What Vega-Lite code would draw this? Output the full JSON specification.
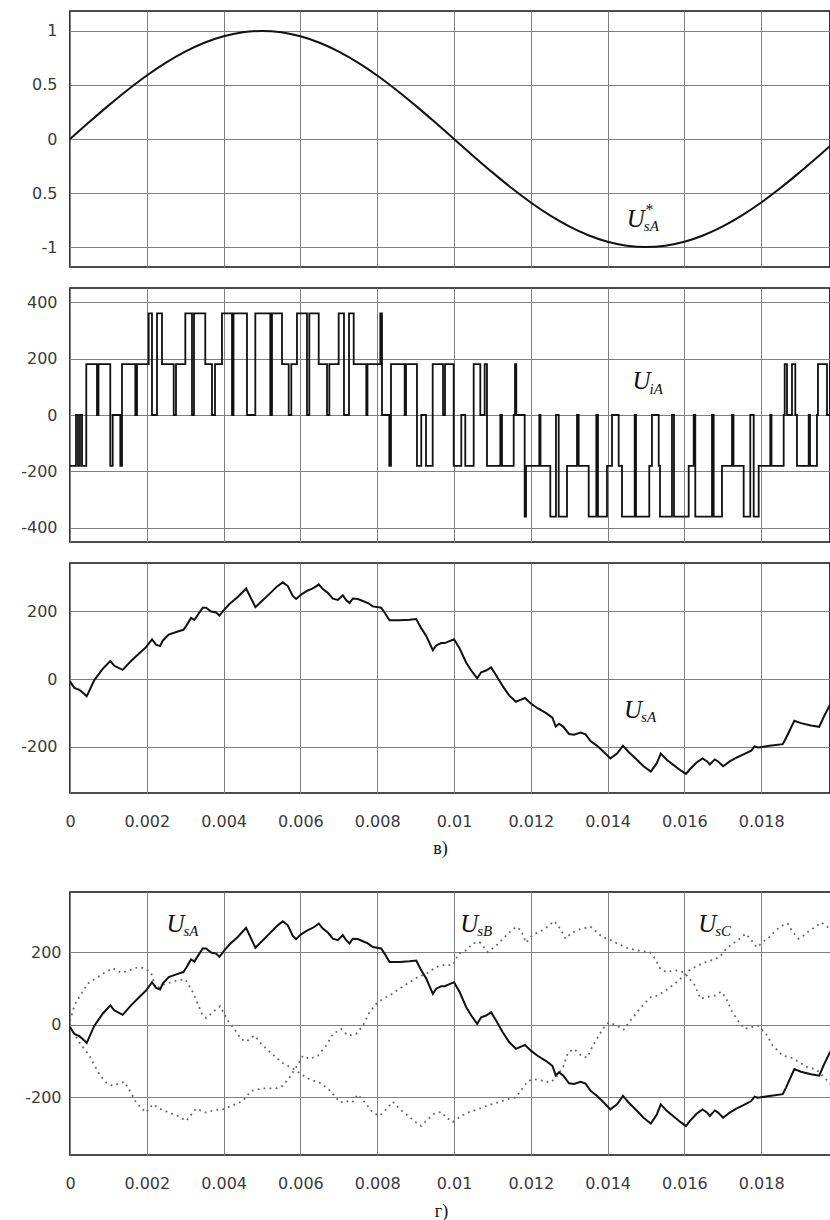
{
  "$schema": "https://vega.github.io/schema/vega-lite/v6.json",
  "padding": {"left": 19, "top": 10, "right": 0, "bottom": 0},
  "config": {
    "view": {"stroke": "#111", "strokeWidth": 1.7},
    "axis": {"grid": true, "gridColor": "#808080", "gridWidth": 1, "ticks": false, "tickSize": 0, "domain": false,
      "labelFont": "DejaVu Sans", "labelFontSize": 16, "labelColor": "#3a3a3a", "labelOverlap": false, "labelFlush": false,
      "titleFont": "Liberation Serif", "titleFontSize": 18, "titleFontWeight": "normal", "titleColor": "#111"},
    "axisY": {"labelPadding": 13},
    "axisX": {"labelPadding": 20, "titlePadding": 10},
    "line": {"color": "#111", "strokeWidth": 2},
    "text": {"font": "Liberation Serif", "fontStyle": "italic", "color": "#111", "align": "left", "baseline": "alphabetic"}
  },
  "datasets": {
    "sine": [
      {"t":0,"v":0},{"t":0.0005,"v":0.1564},{"t":0.001,"v":0.309},{"t":0.0015,"v":0.454},{"t":0.002,"v":0.5878},{"t":0.0025,"v":0.7071},{"t":0.003,"v":0.809},{"t":0.0035,"v":0.891},{"t":0.004,"v":0.9511},{"t":0.0045,"v":0.9877},
      {"t":0.005,"v":1},{"t":0.0055,"v":0.9877},{"t":0.006,"v":0.9511},{"t":0.0065,"v":0.891},{"t":0.007,"v":0.809},{"t":0.0075,"v":0.7071},{"t":0.008,"v":0.5878},{"t":0.0085,"v":0.454},{"t":0.009,"v":0.309},{"t":0.0095,"v":0.1564},
      {"t":0.01,"v":0},{"t":0.0105,"v":-0.1564},{"t":0.011,"v":-0.309},{"t":0.0115,"v":-0.454},{"t":0.012,"v":-0.5878},{"t":0.0125,"v":-0.7071},{"t":0.013,"v":-0.809},{"t":0.0135,"v":-0.891},{"t":0.014,"v":-0.9511},{"t":0.0145,"v":-0.9877},
      {"t":0.015,"v":-1},{"t":0.0155,"v":-0.9877},{"t":0.016,"v":-0.9511},{"t":0.0165,"v":-0.891},{"t":0.017,"v":-0.809},{"t":0.0175,"v":-0.7071},{"t":0.018,"v":-0.5878},{"t":0.0185,"v":-0.454},{"t":0.019,"v":-0.309},{"t":0.0195,"v":-0.1564},{"t":0.02,"v":0}
    ],
    "pwm": [
      {"t":0,"v":-180},{"t":0.000156,"v":0},{"t":0.000208,"v":-180},{"t":0.00026,"v":0},{"t":0.000313,"v":-180},{"t":0.000424,"v":180},{"t":0.000703,"v":0},{"t":0.000742,"v":180},{"t":0.001049,"v":-180},{"t":0.001112,"v":0},
      {"t":0.00131,"v":-180},{"t":0.001354,"v":180},{"t":0.001701,"v":0},{"t":0.001745,"v":180},{"t":0.002049,"v":360},{"t":0.002135,"v":0},{"t":0.002266,"v":360},{"t":0.002396,"v":180},{"t":0.002701,"v":0},{"t":0.00276,"v":180},
      {"t":0.003003,"v":360},{"t":0.003177,"v":0},{"t":0.003229,"v":360},{"t":0.003523,"v":180},{"t":0.003698,"v":0},{"t":0.003776,"v":180},{"t":0.003958,"v":360},{"t":0.004219,"v":0},{"t":0.004258,"v":360},{"t":0.004609,"v":0},
      {"t":0.004826,"v":360},{"t":0.005216,"v":0},{"t":0.00526,"v":360},{"t":0.005521,"v":180},{"t":0.005695,"v":0},{"t":0.005763,"v":180},{"t":0.005911,"v":360},{"t":0.006172,"v":0},{"t":0.006232,"v":360},{"t":0.006477,"v":180},
      {"t":0.006693,"v":0},{"t":0.006753,"v":180},{"t":0.006997,"v":360},{"t":0.007135,"v":0},{"t":0.007266,"v":360},{"t":0.007388,"v":180},{"t":0.007716,"v":0},{"t":0.007747,"v":180},{"t":0.008081,"v":360},{"t":0.008125,"v":0},
      {"t":0.008315,"v":-180},{"t":0.008359,"v":180},{"t":0.008716,"v":0},{"t":0.00875,"v":180},{"t":0.009036,"v":-180},{"t":0.009148,"v":0},{"t":0.009271,"v":-180},{"t":0.009445,"v":180},{"t":0.009714,"v":0},{"t":0.009766,"v":180},
      {"t":0.009992,"v":-180},{"t":0.01019,"v":0},{"t":0.010294,"v":-180},{"t":0.010513,"v":180},{"t":0.010685,"v":0},{"t":0.010799,"v":180},{"t":0.010859,"v":-180},{"t":0.011206,"v":0},{"t":0.01125,"v":-180},{"t":0.011555,"v":0},
      {"t":0.011589,"v":180},{"t":0.011622,"v":0},{"t":0.011841,"v":-360},{"t":0.011875,"v":-180},{"t":0.012221,"v":0},{"t":0.012253,"v":-180},{"t":0.012508,"v":-360},{"t":0.012656,"v":0},{"t":0.012727,"v":-360},{"t":0.012943,"v":-180},
      {"t":0.013203,"v":0},{"t":0.013247,"v":-180},{"t":0.013508,"v":-360},{"t":0.013706,"v":0},{"t":0.01375,"v":-360},{"t":0.013984,"v":-180},{"t":0.014115,"v":0},{"t":0.014289,"v":-180},{"t":0.014375,"v":-360},{"t":0.014706,"v":0},
      {"t":0.01474,"v":-360},{"t":0.015086,"v":-180},{"t":0.015156,"v":0},{"t":0.015331,"v":-180},{"t":0.015365,"v":-360},{"t":0.015677,"v":0},{"t":0.015729,"v":-360},{"t":0.016112,"v":-180},{"t":0.016242,"v":0},{"t":0.016284,"v":-360},
      {"t":0.016719,"v":0},{"t":0.016763,"v":-360},{"t":0.016979,"v":-180},{"t":0.01724,"v":0},{"t":0.017279,"v":-180},{"t":0.017544,"v":-360},{"t":0.017716,"v":0},{"t":0.017805,"v":-360},{"t":0.017935,"v":-180},{"t":0.018237,"v":0},
      {"t":0.018268,"v":-180},{"t":0.018586,"v":0},{"t":0.018612,"v":180},{"t":0.018672,"v":0},{"t":0.018802,"v":180},{"t":0.018888,"v":0},{"t":0.018932,"v":-180},{"t":0.019237,"v":0},{"t":0.019271,"v":-180},{"t":0.019453,"v":0},
      {"t":0.019479,"v":180},{"t":0.019714,"v":0},{"t":0.019792,"v":180},{"t":0.02,"v":180}
    ],
    "usa": [
      {"t":0,"v":-7},{"t":0.000113,"v":-26},{"t":0.000243,"v":-32},{"t":0.00033,"v":-40},{"t":0.000434,"v":-51},{"t":0.000634,"v":-3},{"t":0.000851,"v":30},{"t":0.001051,"v":53},{"t":0.001155,"v":39},{"t":0.001372,"v":27},
      {"t":0.001589,"v":53},{"t":0.001807,"v":76},{"t":0.00198,"v":94},{"t":0.002137,"v":117},{"t":0.002241,"v":101},{"t":0.002345,"v":97},{"t":0.002415,"v":113},{"t":0.002571,"v":131},{"t":0.002806,"v":140},{"t":0.002953,"v":145},
      {"t":0.003023,"v":156},{"t":0.003153,"v":180},{"t":0.00324,"v":174},{"t":0.003327,"v":189},{"t":0.003457,"v":210},{"t":0.003544,"v":210},{"t":0.003674,"v":199},{"t":0.003804,"v":196},{"t":0.003891,"v":187},{"t":0.004022,"v":205},
      {"t":0.004152,"v":221},{"t":0.004369,"v":242},{"t":0.004586,"v":267},{"t":0.004829,"v":212},{"t":0.004977,"v":228},{"t":0.005194,"v":251},{"t":0.005394,"v":273},{"t":0.005542,"v":285},{"t":0.005672,"v":274},{"t":0.005802,"v":245},
      {"t":0.005889,"v":236},{"t":0.006019,"v":249},{"t":0.006193,"v":261},{"t":0.00628,"v":265},{"t":0.006367,"v":270},{"t":0.00648,"v":279},{"t":0.006584,"v":265},{"t":0.006714,"v":254},{"t":0.006845,"v":237},{"t":0.006975,"v":233},
      {"t":0.007105,"v":247},{"t":0.007192,"v":233},{"t":0.007279,"v":224},{"t":0.007366,"v":237},{"t":0.007496,"v":236},{"t":0.007626,"v":230},{"t":0.007757,"v":224},{"t":0.007887,"v":214},{"t":0.008104,"v":210},{"t":0.008191,"v":196},
      {"t":0.008321,"v":173},{"t":0.008582,"v":173},{"t":0.008842,"v":175},{"t":0.009016,"v":177},{"t":0.009146,"v":150},{"t":0.009277,"v":127},{"t":0.00945,"v":85},{"t":0.009537,"v":99},{"t":0.009667,"v":106},{"t":0.009758,"v":106},
      {"t":0.01,"v":117},{"t":0.010147,"v":90},{"t":0.010319,"v":48},{"t":0.010449,"v":25},{"t":0.010604,"v":2},{"t":0.010708,"v":20},{"t":0.010837,"v":25},{"t":0.010967,"v":34},{"t":0.011096,"v":11},{"t":0.011269,"v":-21},
      {"t":0.011441,"v":-49},{"t":0.011614,"v":-67},{"t":0.0117,"v":-63},{"t":0.011847,"v":-56},{"t":0.012002,"v":-72},{"t":0.012175,"v":-86},{"t":0.012391,"v":-100},{"t":0.012563,"v":-114},{"t":0.012649,"v":-140},{"t":0.012736,"v":-132},
      {"t":0.012848,"v":-141},{"t":0.012995,"v":-162},{"t":0.013124,"v":-164},{"t":0.013297,"v":-158},{"t":0.013426,"v":-163},{"t":0.013556,"v":-183},{"t":0.013728,"v":-197},{"t":0.013901,"v":-215},{"t":0.014074,"v":-234},{"t":0.014246,"v":-220},
      {"t":0.014401,"v":-197},{"t":0.014548,"v":-215},{"t":0.014764,"v":-238},{"t":0.014936,"v":-257},{"t":0.015126,"v":-273},{"t":0.015282,"v":-248},{"t":0.015385,"v":-220},{"t":0.01554,"v":-238},{"t":0.015713,"v":-253},{"t":0.015886,"v":-268},
      {"t":0.016041,"v":-280},{"t":0.016145,"v":-266},{"t":0.016317,"v":-246},{"t":0.016473,"v":-234},{"t":0.016594,"v":-243},{"t":0.016663,"v":-252},{"t":0.016792,"v":-237},{"t":0.016878,"v":-243},{"t":0.017008,"v":-257},{"t":0.01718,"v":-243},
      {"t":0.017353,"v":-232},{"t":0.017525,"v":-223},{"t":0.017741,"v":-211},{"t":0.017827,"v":-199},{"t":0.017914,"v":-202},{"t":0.018216,"v":-197},{"t":0.018561,"v":-192},{"t":0.018647,"v":-174},{"t":0.018863,"v":-123},{"t":0.019036,"v":-130},
      {"t":0.019295,"v":-137},{"t":0.019511,"v":-141},{"t":0.01964,"v":-109},{"t":0.01977,"v":-81},{"t":0.019942,"v":-47}
    ],
    "usb": [
      {"t":0,"v":-5},{"t":0.000243,"v":-49},{"t":0.000504,"v":-86},{"t":0.000764,"v":-137},{"t":0.000938,"v":-160},{"t":0.001112,"v":-169},{"t":0.001242,"v":-164},{"t":0.001416,"v":-158},{"t":0.001589,"v":-188},{"t":0.00172,"v":-215},
      {"t":0.00198,"v":-243},{"t":0.002154,"v":-220},{"t":0.002371,"v":-234},{"t":0.002588,"v":-243},{"t":0.002806,"v":-252},{"t":0.003023,"v":-266},{"t":0.003283,"v":-232},{"t":0.003544,"v":-243},{"t":0.003761,"v":-236},{"t":0.003978,"v":-234},
      {"t":0.004239,"v":-223},{"t":0.004499,"v":-211},{"t":0.004716,"v":-183},{"t":0.005021,"v":-176},{"t":0.005368,"v":-176},{"t":0.005542,"v":-169},{"t":0.005715,"v":-146},{"t":0.005889,"v":-118},{"t":0.006063,"v":-86},{"t":0.006237,"v":-95},
      {"t":0.006454,"v":-86},{"t":0.006671,"v":-58},{"t":0.006845,"v":-26},{"t":0.007062,"v":-12},{"t":0.007235,"v":-30},{"t":0.007453,"v":-26},{"t":0.007626,"v":-3},{"t":0.0078,"v":34},{"t":0.007974,"v":57},{"t":0.008147,"v":71},
      {"t":0.008321,"v":80},{"t":0.008582,"v":99},{"t":0.008842,"v":117},{"t":0.009059,"v":131},{"t":0.009277,"v":140},{"t":0.009537,"v":159},{"t":0.009754,"v":165},{"t":0.009974,"v":164},{"t":0.010121,"v":196},{"t":0.010319,"v":205},
      {"t":0.010492,"v":224},{"t":0.010665,"v":228},{"t":0.01088,"v":200},{"t":0.011053,"v":214},{"t":0.011269,"v":236},{"t":0.011441,"v":254},{"t":0.011614,"v":270},{"t":0.011743,"v":261},{"t":0.011873,"v":226},{"t":0.012045,"v":247},
      {"t":0.012261,"v":258},{"t":0.012434,"v":270},{"t":0.012606,"v":286},{"t":0.012762,"v":265},{"t":0.012908,"v":237},{"t":0.013038,"v":251},{"t":0.01321,"v":261},{"t":0.013426,"v":267},{"t":0.013556,"v":270},{"t":0.013711,"v":256},
      {"t":0.013858,"v":242},{"t":0.01403,"v":236},{"t":0.014246,"v":224},{"t":0.014505,"v":212},{"t":0.014764,"v":205},{"t":0.015109,"v":199},{"t":0.015238,"v":182},{"t":0.015385,"v":152},{"t":0.01554,"v":145},{"t":0.015756,"v":150},
      {"t":0.015972,"v":145},{"t":0.016101,"v":131},{"t":0.016274,"v":108},{"t":0.016421,"v":71},{"t":0.016576,"v":76},{"t":0.016792,"v":80},{"t":0.016964,"v":91},{"t":0.017094,"v":71},{"t":0.017223,"v":39},{"t":0.017396,"v":11},
      {"t":0.017569,"v":-12},{"t":0.017741,"v":-7},{"t":0.017914,"v":-3},{"t":0.018129,"v":-26},{"t":0.018302,"v":-58},{"t":0.018561,"v":-86},{"t":0.018777,"v":-91},{"t":0.018992,"v":-104},{"t":0.019208,"v":-118},{"t":0.019424,"v":-123},
      {"t":0.019597,"v":-141},{"t":0.01977,"v":-160},{"t":0.019942,"v":-183}
    ],
    "usc": [
      {"t":0,"v":10},{"t":0.000113,"v":53},{"t":0.000243,"v":76},{"t":0.00046,"v":113},{"t":0.000678,"v":128},{"t":0.000895,"v":143},{"t":0.001112,"v":156},{"t":0.001329,"v":143},{"t":0.001546,"v":150},{"t":0.001763,"v":158},
      {"t":0.001937,"v":156},{"t":0.002111,"v":143},{"t":0.00224,"v":99},{"t":0.0025,"v":113},{"t":0.0028,"v":122},{"t":0.003,"v":125},{"t":0.003197,"v":90},{"t":0.003327,"v":57},{"t":0.003457,"v":25},{"t":0.003544,"v":18},
      {"t":0.003718,"v":34},{"t":0.003909,"v":51},{"t":0.004109,"v":11},{"t":0.004282,"v":-12},{"t":0.004456,"v":-40},{"t":0.004586,"v":-47},{"t":0.004803,"v":-30},{"t":0.005021,"v":-58},{"t":0.005264,"v":-81},{"t":0.005498,"v":-104},
      {"t":0.005802,"v":-121},{"t":0.006019,"v":-137},{"t":0.006237,"v":-151},{"t":0.006497,"v":-160},{"t":0.006714,"v":-176},{"t":0.006888,"v":-197},{"t":0.007036,"v":-215},{"t":0.007192,"v":-211},{"t":0.007348,"v":-215},{"t":0.007496,"v":-193},
      {"t":0.007696,"v":-217},{"t":0.007887,"v":-243},{"t":0.008061,"v":-252},{"t":0.008234,"v":-234},{"t":0.008408,"v":-213},{"t":0.008599,"v":-234},{"t":0.008799,"v":-252},{"t":0.008999,"v":-269},{"t":0.009146,"v":-280},{"t":0.00932,"v":-261},
      {"t":0.009494,"v":-245},{"t":0.009667,"v":-241},{"t":0.009801,"v":-257},{"t":0.009974,"v":-269},{"t":0.01019,"v":-252},{"t":0.010406,"v":-241},{"t":0.010621,"v":-234},{"t":0.01088,"v":-223},{"t":0.011139,"v":-215},{"t":0.011398,"v":-206},
      {"t":0.011614,"v":-201},{"t":0.011786,"v":-176},{"t":0.011933,"v":-155},{"t":0.012106,"v":-151},{"t":0.012304,"v":-155},{"t":0.01252,"v":-160},{"t":0.012693,"v":-141},{"t":0.012848,"v":-115},{"t":0.012969,"v":-77},{"t":0.013124,"v":-67},
      {"t":0.013314,"v":-86},{"t":0.013469,"v":-91},{"t":0.013616,"v":-58},{"t":0.013746,"v":-35},{"t":0.013875,"v":-12},{"t":0.01403,"v":6},{"t":0.014246,"v":-3},{"t":0.014419,"v":-14},{"t":0.014591,"v":11},{"t":0.014764,"v":34},
      {"t":0.014954,"v":57},{"t":0.015126,"v":76},{"t":0.015299,"v":80},{"t":0.015454,"v":90},{"t":0.015627,"v":103},{"t":0.015817,"v":119},{"t":0.015989,"v":136},{"t":0.016127,"v":150},{"t":0.016274,"v":159},{"t":0.016447,"v":168},
      {"t":0.016619,"v":175},{"t":0.016792,"v":180},{"t":0.016938,"v":189},{"t":0.017094,"v":210},{"t":0.017266,"v":224},{"t":0.017439,"v":237},{"t":0.017595,"v":251},{"t":0.017741,"v":233},{"t":0.017888,"v":213},{"t":0.018043,"v":228},
      {"t":0.018216,"v":242},{"t":0.018388,"v":261},{"t":0.018561,"v":274},{"t":0.01869,"v":279},{"t":0.01882,"v":256},{"t":0.018975,"v":237},{"t":0.019122,"v":247},{"t":0.019269,"v":261},{"t":0.019424,"v":270},{"t":0.019553,"v":282},
      {"t":0.0197,"v":273},{"t":0.019838,"v":256},{"t":0.019942,"v":247}
    ],
    "lbl1": [{"t":0.0145,"v":-0.812,"main":"U","sub":"sA","sup":"*"}],
    "lbl2": [{"t":0.01465,"v":91,"main":"U","sub":"iA"}],
    "lbl3": [{"t":0.01443,"v":-115,"main":"U","sub":"sA"}],
    "lbl4": [
      {"t":0.00251,"v":256,"main":"U","sub":"sA"},
      {"t":0.01016,"v":256,"main":"U","sub":"sB"},
      {"t":0.01636,"v":256,"main":"U","sub":"sC"}
    ]
  },
  "concat": [
    {
      "spacing": 19,
      "vconcat": [
        {
          "width": 760, "height": 256,
          "layer": [
            {"data": {"name": "sine"}, "mark": {"type": "line", "interpolate": "monotone", "clip": true},
             "encoding": {
               "x": {"field": "t", "type": "quantitative", "scale": {"domain": [0, 0.019792], "nice": false, "zero": false},
                     "axis": {"values": [0,0.002,0.004,0.006,0.008,0.01,0.012,0.014,0.016,0.018], "labels": false, "title": null}},
               "y": {"field": "v", "type": "quantitative", "scale": {"domain": [-1.185, 1.185], "nice": false, "zero": false},
                     "axis": {"values": [-1,-0.5,0,0.5,1], "title": null, "labelExpr": "datum.value == -0.5 ? '0.5' : (datum.value < 0 ? '-' : '') + format(abs(datum.value), '~g')"}}
             }},
            {"data": {"name": "lbl1"}, "mark": {"type": "text", "fontSize": 25},
             "encoding": {"x": {"field": "t", "type": "quantitative"}, "y": {"field": "v", "type": "quantitative"}, "text": {"field": "main"}}},
            {"data": {"name": "lbl1"}, "mark": {"type": "text", "fontSize": 15, "dx": 17, "dy": 4},
             "encoding": {"x": {"field": "t", "type": "quantitative"}, "y": {"field": "v", "type": "quantitative"}, "text": {"field": "sub"}}},
            {"data": {"name": "lbl1"}, "mark": {"type": "text", "fontSize": 16, "dx": 18, "dy": -12},
             "encoding": {"x": {"field": "t", "type": "quantitative"}, "y": {"field": "v", "type": "quantitative"}, "text": {"field": "sup"}}}
          ]
        },
        {
          "width": 760, "height": 254,
          "layer": [
            {"data": {"name": "pwm"}, "mark": {"type": "line", "interpolate": "step-after", "clip": true, "strokeWidth": 1.8},
             "encoding": {
               "x": {"field": "t", "type": "quantitative", "scale": {"domain": [0, 0.019792], "nice": false, "zero": false},
                     "axis": {"values": [0,0.002,0.004,0.006,0.008,0.01,0.012,0.014,0.016,0.018], "labels": false, "title": null}},
               "y": {"field": "v", "type": "quantitative", "scale": {"domain": [-450, 450], "nice": false, "zero": false},
                     "axis": {"values": [-400,-200,0,200,400], "title": null, "labelExpr": "(datum.value < 0 ? '-' : '') + format(abs(datum.value), '~g')"}}
             }},
            {"data": {"name": "lbl2"}, "mark": {"type": "text", "fontSize": 25},
             "encoding": {"x": {"field": "t", "type": "quantitative"}, "y": {"field": "v", "type": "quantitative"}, "text": {"field": "main"}}},
            {"data": {"name": "lbl2"}, "mark": {"type": "text", "fontSize": 15, "dx": 17, "dy": 5},
             "encoding": {"x": {"field": "t", "type": "quantitative"}, "y": {"field": "v", "type": "quantitative"}, "text": {"field": "sub"}}}
          ]
        },
        {
          "width": 760, "height": 230,
          "layer": [
            {"data": {"name": "usa"}, "mark": {"type": "line", "clip": true},
             "encoding": {
               "x": {"field": "t", "type": "quantitative", "scale": {"domain": [0, 0.019792], "nice": false, "zero": false},
                     "axis": {"values": [0,0.002,0.004,0.006,0.008,0.01,0.012,0.014,0.016,0.018], "format": "~g", "title": "в)", "titleX": 370}},
               "y": {"field": "v", "type": "quantitative", "scale": {"domain": [-336, 342], "nice": false, "zero": false},
                     "axis": {"values": [-200,0,200], "title": null, "labelExpr": "(datum.value < 0 ? '-' : '') + format(abs(datum.value), '~g')"}}
             }},
            {"data": {"name": "lbl3"}, "mark": {"type": "text", "fontSize": 25},
             "encoding": {"x": {"field": "t", "type": "quantitative"}, "y": {"field": "v", "type": "quantitative"}, "text": {"field": "main"}}},
            {"data": {"name": "lbl3"}, "mark": {"type": "text", "fontSize": 15, "dx": 17, "dy": 4},
             "encoding": {"x": {"field": "t", "type": "quantitative"}, "y": {"field": "v", "type": "quantitative"}, "text": {"field": "sub"}}}
          ]
        }
      ]
    },
    {
      "width": 764, "height": 263,
      "layer": [
        {"data": {"name": "usb"}, "mark": {"type": "line", "clip": true, "color": "#666", "strokeWidth": 1.8, "strokeDash": [1.8, 4.2]},
         "encoding": {
           "x": {"field": "t", "type": "quantitative", "scale": {"domain": [0, 0.019896], "nice": false, "zero": false},
                 "axis": {"values": [0,0.002,0.004,0.006,0.008,0.01,0.012,0.014,0.016,0.018], "format": "~g", "title": "г)", "titleX": 371, "titlePadding": 11}},
           "y": {"field": "v", "type": "quantitative", "scale": {"domain": [-360, 366], "nice": false, "zero": false},
                 "axis": {"values": [-200,0,200], "title": null, "labelPadding": 9, "labelExpr": "(datum.value < 0 ? '-' : '') + format(abs(datum.value), '~g')"}}
         }},
        {"data": {"name": "usc"}, "mark": {"type": "line", "clip": true, "color": "#666", "strokeWidth": 1.8, "strokeDash": [1.8, 4.2]},
         "encoding": {"x": {"field": "t", "type": "quantitative"}, "y": {"field": "v", "type": "quantitative"}}},
        {"data": {"name": "usa"}, "mark": {"type": "line", "clip": true},
         "encoding": {"x": {"field": "t", "type": "quantitative"}, "y": {"field": "v", "type": "quantitative"}}},
        {"data": {"name": "lbl4"}, "mark": {"type": "text", "fontSize": 25},
         "encoding": {"x": {"field": "t", "type": "quantitative"}, "y": {"field": "v", "type": "quantitative"}, "text": {"field": "main"}}},
        {"data": {"name": "lbl4"}, "mark": {"type": "text", "fontSize": 15, "dx": 17, "dy": 4},
         "encoding": {"x": {"field": "t", "type": "quantitative"}, "y": {"field": "v", "type": "quantitative"}, "text": {"field": "sub"}}}
      ]
    }
  ],
  "columns": 1,
  "align": "none",
  "spacing": 33
}
